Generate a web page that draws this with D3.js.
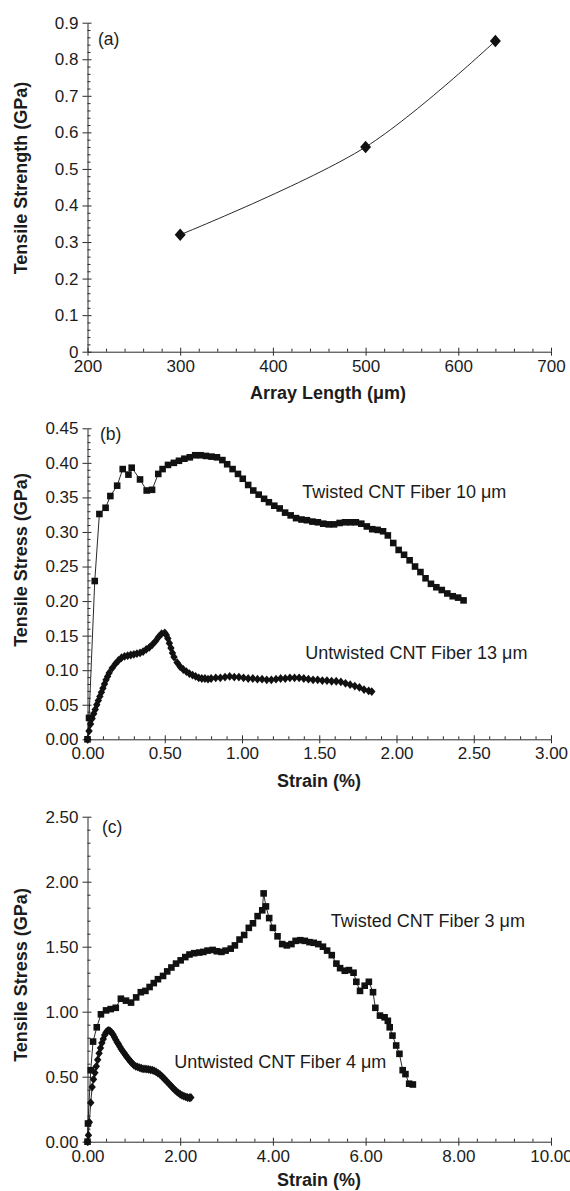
<!DOCTYPE html>
<html>
<head>
<meta charset="utf-8">
<script src="https://cdn.jsdelivr.net/npm/d3@7"></script>
<style>
body { margin: 0; background: #fff; }
text { font-family: Arial, "Liberation Sans", sans-serif; fill: #1c1c1c; }
.axis path, .axis line { stroke: #2a2a2a; stroke-width: 1; }
.axis text { font-size: 17px; }
.title { font-size: 18px; font-weight: bold; }
.note { font-size: 18px; }
.letter { font-size: 17.5px; }
</style>
</head>
<body>
<svg id="chart" width="570" height="1191"></svg>
<script>
// (a) strength vs array length
const aLength = [300, 500, 640];
const aStrength = [0.32, 0.56, 0.85];

// (b) 10 um twisted / 13 um untwisted
const bTwistStrain = [0.000,0.010,0.047,0.077,0.117,0.148,0.192,0.228,0.265,0.286,0.340,0.383,0.418,0.458,0.486,0.521,0.559,0.592,0.627,0.662,0.697,0.732,0.767,0.803,0.838,0.873,0.904,0.939,0.974,1.005,1.040,1.073,1.108,1.143,1.174,1.209,1.244,1.279,1.315,1.350,1.385,1.420,1.456,1.491,1.526,1.561,1.596,1.632,1.667,1.702,1.737,1.772,1.808,1.843,1.878,1.913,1.944,1.979,2.014,2.049,2.085,2.120,2.155,2.188,2.223,2.258,2.293,2.329,2.364,2.399,2.434];
const bTwistStress = [0.000,0.031,0.229,0.326,0.335,0.352,0.367,0.391,0.383,0.393,0.376,0.360,0.361,0.384,0.391,0.397,0.400,0.403,0.406,0.408,0.411,0.411,0.410,0.409,0.408,0.404,0.398,0.391,0.384,0.377,0.368,0.360,0.354,0.348,0.343,0.338,0.334,0.328,0.324,0.320,0.318,0.317,0.315,0.314,0.312,0.311,0.311,0.313,0.314,0.314,0.314,0.312,0.308,0.304,0.303,0.301,0.295,0.284,0.274,0.267,0.259,0.250,0.242,0.233,0.225,0.220,0.216,0.211,0.207,0.205,0.201];
const bUntwStrain = [0.00,0.01,0.02,0.03,0.04,0.05,0.06,0.07,0.08,0.09,0.10,0.11,0.12,0.13,0.14,0.16,0.18,0.20,0.22,0.24,0.26,0.28,0.30,0.32,0.34,0.36,0.38,0.40,0.42,0.44,0.46,0.48,0.50,0.51,0.52,0.53,0.54,0.55,0.56,0.58,0.60,0.62,0.64,0.66,0.68,0.70,0.72,0.74,0.76,0.78,0.80,0.83,0.86,0.89,0.92,0.95,0.98,1.01,1.04,1.07,1.10,1.13,1.16,1.19,1.22,1.25,1.28,1.31,1.34,1.37,1.40,1.43,1.46,1.49,1.52,1.55,1.58,1.61,1.64,1.67,1.70,1.73,1.76,1.79,1.82,1.84];
const bUntwStress = [0.000,0.012,0.022,0.030,0.037,0.043,0.050,0.056,0.062,0.068,0.074,0.080,0.086,0.091,0.096,0.103,0.109,0.114,0.118,0.120,0.121,0.122,0.123,0.124,0.125,0.127,0.130,0.133,0.137,0.142,0.148,0.153,0.154,0.151,0.146,0.139,0.132,0.125,0.119,0.111,0.105,0.101,0.098,0.095,0.093,0.091,0.089,0.088,0.088,0.087,0.088,0.089,0.089,0.090,0.091,0.090,0.090,0.089,0.088,0.088,0.087,0.087,0.086,0.086,0.087,0.088,0.088,0.089,0.089,0.089,0.088,0.087,0.086,0.086,0.085,0.085,0.084,0.084,0.083,0.081,0.079,0.077,0.075,0.072,0.070,0.069];

// (c) 3 um twisted / 4 um untwisted
const cTwistStrain = [0.00,0.01,0.07,0.12,0.20,0.29,0.40,0.50,0.61,0.72,0.83,0.94,1.05,1.15,1.25,1.34,1.43,1.52,1.63,1.72,1.81,1.91,2.01,2.11,2.20,2.30,2.41,2.50,2.59,2.70,2.79,2.89,2.98,3.09,3.18,3.28,3.38,3.48,3.57,3.67,3.77,3.80,3.85,3.92,4.00,4.10,4.20,4.30,4.40,4.49,4.59,4.69,4.79,4.88,4.98,5.08,5.17,5.27,5.37,5.45,5.55,5.64,5.74,5.80,5.88,5.98,6.07,6.16,6.21,6.31,6.41,6.48,6.52,6.58,6.66,6.73,6.80,6.86,6.94,7.02];
const cTwistStress = [0.00,0.14,0.55,0.77,0.88,0.98,1.01,1.02,1.03,1.10,1.085,1.07,1.11,1.15,1.16,1.19,1.22,1.25,1.275,1.31,1.34,1.37,1.395,1.42,1.44,1.45,1.455,1.46,1.47,1.475,1.465,1.46,1.47,1.485,1.51,1.555,1.59,1.645,1.68,1.735,1.78,1.91,1.81,1.72,1.645,1.58,1.52,1.51,1.52,1.545,1.55,1.545,1.535,1.53,1.52,1.50,1.47,1.435,1.37,1.335,1.315,1.32,1.30,1.23,1.16,1.20,1.23,1.15,1.03,0.97,0.957,0.93,0.88,0.816,0.74,0.676,0.55,0.52,0.446,0.44];
const cUntwStrain = [0.00,0.02,0.04,0.07,0.10,0.13,0.16,0.19,0.22,0.25,0.28,0.31,0.34,0.37,0.40,0.43,0.46,0.49,0.52,0.55,0.58,0.61,0.64,0.67,0.70,0.73,0.76,0.79,0.82,0.85,0.88,0.91,0.94,0.97,1.00,1.04,1.08,1.12,1.16,1.20,1.24,1.28,1.32,1.36,1.40,1.44,1.48,1.52,1.56,1.60,1.64,1.68,1.72,1.76,1.80,1.84,1.88,1.92,1.96,2.00,2.04,2.08,2.12,2.16,2.20,2.23];
const cUntwStress = [0.00,0.05,0.15,0.30,0.42,0.48,0.53,0.58,0.63,0.68,0.72,0.76,0.79,0.82,0.84,0.853,0.856,0.85,0.84,0.825,0.805,0.785,0.765,0.75,0.73,0.712,0.697,0.682,0.667,0.652,0.638,0.624,0.613,0.60,0.59,0.58,0.575,0.57,0.565,0.56,0.56,0.558,0.556,0.553,0.55,0.545,0.537,0.528,0.518,0.505,0.49,0.476,0.46,0.445,0.43,0.415,0.40,0.387,0.375,0.365,0.357,0.35,0.345,0.34,0.338,0.34];

// tick values
const aXTicks = [200, 300, 400, 500, 600, 700];
const aYTicks = [0, 0.1, 0.2, 0.3, 0.4, 0.5, 0.6, 0.7, 0.8, 0.9];
const bXTicks = [0, 0.5, 1, 1.5, 2, 2.5, 3];
const bYTicks = [0, 0.05, 0.1, 0.15, 0.2, 0.25, 0.3, 0.35, 0.4, 0.45];
const cXTicks = [0, 2, 4, 6, 8, 10];
const cYTicks = [0, 0.5, 1, 1.5, 2, 2.5];

const zip = (xs, ys) => xs.map((v, i) => [v, ys[i]]);

const svg = d3.select('#chart');
const left = 87.5, right = 551;

const panels = [
  { letter: '(a)', lx: 98, ly: 39.3, top: 22.7, bottom: 351.7, xTicks: aXTicks, yTicks: aYTicks,
    xFmt: d3.format('d'), yFmt: d => d === 0 ? '0' : d3.format('.1f')(d),
    xTitle: 'Array Length (\u03bcm)', xTitleX: 328, xTitleDy: 41, yTitle: 'Tensile Strength (GPa)', yTitleY: 178,
    series: [{ pts: zip(aLength, aStrength), mark: 'bigdiamond', curve: d3.curveCatmullRom }],
    notes: [] },
  { letter: '(b)', lx: 100, ly: 434, top: 428.3, bottom: 739.3, xTicks: bXTicks, yTicks: bYTicks,
    xFmt: d3.format('.2f'), yFmt: d3.format('.2f'),
    xTitle: 'Strain (%)', xTitleX: 319, xTitleDy: 41, yTitle: 'Tensile Stress (GPa)', yTitleY: 560,
    series: [
      { pts: zip(bUntwStrain, bUntwStress), mark: 'diamond', curve: d3.curveLinear },
      { pts: zip(bTwistStrain, bTwistStress), mark: 'square', curve: d3.curveLinear }],
    notes: [{ t: 'Twisted CNT Fiber 10 \u03bcm', x: 1.39, y: 0.358 },
            { t: 'Untwisted CNT Fiber 13 \u03bcm', x: 1.41, y: 0.125 }] },
  { letter: '(c)', lx: 102, ly: 827, top: 816.7, bottom: 1141.7, xTicks: cXTicks, yTicks: cYTicks,
    xFmt: d3.format('.2f'), yFmt: d3.format('.2f'),
    xTitle: 'Strain (%)', xTitleX: 319, xTitleDy: 37.5, yTitle: 'Tensile Stress (GPa)', yTitleY: 975,
    series: [
      { pts: zip(cUntwStrain, cUntwStress), mark: 'diamond', curve: d3.curveLinear },
      { pts: zip(cTwistStrain, cTwistStress), mark: 'square', curve: d3.curveLinear }],
    notes: [{ t: 'Twisted CNT Fiber 3 \u03bcm', x: 5.25, y: 1.70 },
            { t: 'Untwisted CNT Fiber 4 \u03bcm', x: 1.87, y: 0.613 }] }
];

function minorTicks(major) {
  let out = [];
  for (let i = 0; i < major.length - 1; i++) {
    const step = (major[i + 1] - major[i]) / 5;
    for (let k = 1; k < 5; k++) out.push(major[i] + k * step);
  }
  return out;
}

panels.forEach(p => {
  const x = d3.scaleLinear().domain(d3.extent(p.xTicks)).range([left, right]);
  const y = d3.scaleLinear().domain(d3.extent(p.yTicks)).range([p.bottom, p.top]);
  const g = svg.append('g');

  // inner ticks (minor + major)
  g.append('g').attr('class', 'axis').attr('transform', `translate(0,${p.bottom})`)
    .call(d3.axisTop(x).tickValues(minorTicks(p.xTicks)).tickSize(3).tickFormat(''))
    .call(a => a.select('.domain').remove());
  g.append('g').attr('class', 'axis').attr('transform', `translate(0,${p.bottom})`)
    .call(d3.axisTop(x).tickValues(p.xTicks).tickSize(4).tickFormat(''))
    .call(a => a.select('.domain').remove());
  g.append('g').attr('class', 'axis').attr('transform', `translate(${left},0)`)
    .call(d3.axisRight(y).tickValues(minorTicks(p.yTicks)).tickSize(3).tickFormat(''))
    .call(a => a.select('.domain').remove());
  g.append('g').attr('class', 'axis').attr('transform', `translate(${left},0)`)
    .call(d3.axisRight(y).tickValues(p.yTicks).tickSize(4).tickFormat(''))
    .call(a => a.select('.domain').remove());

  // outer ticks with labels
  g.append('g').attr('class', 'axis').attr('transform', `translate(0,${p.bottom})`)
    .call(d3.axisBottom(x).tickValues(p.xTicks).tickFormat(p.xFmt).tickSize(4).tickSizeOuter(0).tickPadding(4));
  g.append('g').attr('class', 'axis').attr('transform', `translate(${left},0)`)
    .call(d3.axisLeft(y).tickValues(p.yTicks).tickFormat(p.yFmt).tickSize(5).tickSizeOuter(0).tickPadding(4));

  g.append('text').attr('class', 'title').attr('x', p.xTitleX).attr('y', p.bottom + p.xTitleDy)
    .attr('text-anchor', 'middle').attr('dy', '0.35em').text(p.xTitle);
  g.append('text').attr('class', 'title')
    .attr('transform', `translate(21,${p.yTitleY}) rotate(-90)`)
    .attr('text-anchor', 'middle').attr('dy', '0.35em').text(p.yTitle);
  g.append('text').attr('class', 'letter').attr('x', p.lx).attr('y', p.ly)
    .attr('dy', '0.35em').text(p.letter);

  p.series.forEach(s => {
    g.append('path').datum(s.pts)
      .attr('fill', 'none').attr('stroke', '#111').attr('stroke-width', 0.9)
      .attr('d', d3.line().x(d => x(d[0])).y(d => y(d[1])).curve(s.curve));
    const m = g.append('g').selectAll('path').data(s.pts).join('path')
      .attr('fill', '#111')
      .attr('transform', d => `translate(${x(d[0])},${y(d[1])})`);
    if (s.mark === 'square') m.attr('d', 'M-3.3,-3.3H3.3V3.3H-3.3Z');
    else if (s.mark === 'bigdiamond') m.attr('d', 'M0,-6.2L5.5,0L0,6.2L-5.5,0Z');
    else m.attr('d', 'M0,-4.4L3.7,0L0,4.4L-3.7,0Z');
  });

  p.notes.forEach(n => {
    g.append('text').attr('class', 'note').attr('x', x(n.x)).attr('y', y(n.y))
      .attr('dy', '0.35em').text(n.t);
  });
});
</script>
</body>
</html>
